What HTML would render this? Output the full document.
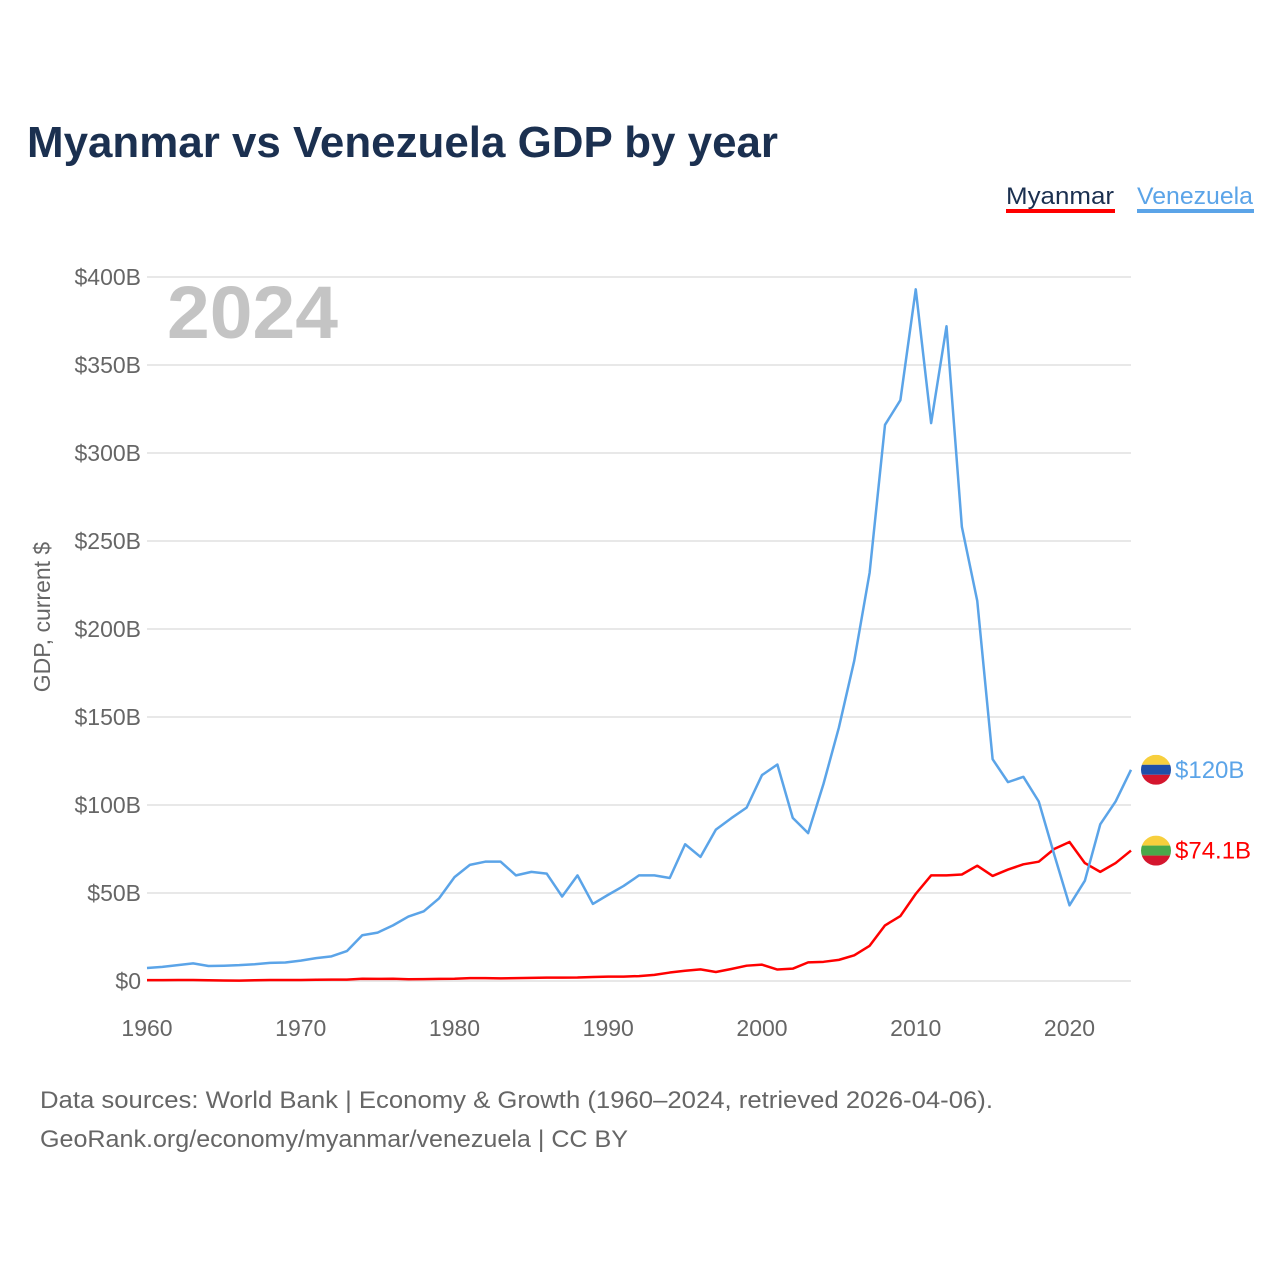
<!DOCTYPE html>
<html><head><meta charset="utf-8"><style>
body{margin:0;background:#fff;font-family:"Liberation Sans",sans-serif}
</style></head><body>
<svg width="1280" height="1280" xmlns="http://www.w3.org/2000/svg" font-family="Liberation Sans, sans-serif">
<rect width="1280" height="1280" fill="#fff"/>
<text x="27" y="157" font-size="44" font-weight="bold" fill="#1b3050" textLength="751" lengthAdjust="spacingAndGlyphs">Myanmar vs Venezuela GDP by year</text>
<g>
<text x="1006" y="204" font-size="24" fill="#1b3050" textLength="108" lengthAdjust="spacingAndGlyphs">Myanmar</text>
<rect x="1006" y="209" width="109" height="4" fill="#ff0000"/>
<text x="1137" y="204" font-size="24" fill="#5ba4e8" textLength="116" lengthAdjust="spacingAndGlyphs">Venezuela</text>
<rect x="1137" y="209" width="117" height="4" fill="#5ba4e8"/>
</g>
<g id="grid"></g>
<text x="167" y="338" font-size="74" font-weight="bold" fill="#c4c4c4" textLength="171" lengthAdjust="spacingAndGlyphs">2024</text>
<text transform="translate(50,617) rotate(-90)" text-anchor="middle" font-size="23" fill="#666">GDP, current $</text>
<g id="series"></g>
<g>
<text x="40" y="1108" font-size="24" fill="#666" textLength="953" lengthAdjust="spacingAndGlyphs">Data sources: World Bank | Economy &amp; Growth (1960–2024, retrieved 2026-04-06).</text>
<text x="40" y="1147" font-size="24" fill="#666" textLength="588" lengthAdjust="spacingAndGlyphs">GeoRank.org/economy/myanmar/venezuela | CC BY</text>
</g>
</svg>
<script>
const years=[];for(let y=1960;y<=2024;y++)years.push(y);
const yTicks=[0,50,100,150,200,250,300,350,400];
const yTickLabels=["$0","$50B","$100B","$150B","$200B","$250B","$300B","$350B","$400B"];
const xTicks=[1960,1970,1980,1990,2000,2010,2020];
const venezuela=[7.4,8,9,10,8.5,8.7,9,9.5,10.3,10.5,11.6,13,14,17,26,27.5,31.6,36.6,39.6,47,59,66,67.8,67.8,60,62,61,48,60,43.8,49,54,60,60,58.5,77.7,70.5,86,92.5,98.5,117,123,92.7,84,112,144,182,232,316,330,393,317,372,258,216,126,113,116,102,72,43,57,89,102,120];
const myanmar=[0.5,0.5,0.6,0.6,0.4,0.3,0.2,0.4,0.6,0.6,0.6,0.7,0.8,0.8,1.3,1.2,1.3,1,1.1,1.2,1.3,1.6,1.6,1.5,1.6,1.8,1.9,1.9,2,2.3,2.5,2.5,2.8,3.5,4.8,5.8,6.6,5.1,6.8,8.7,9.3,6.5,7,10.6,10.9,12,14.6,20,31.6,36.9,49.5,60,60,60.5,65.5,59.7,63.3,66.3,67.8,75,79,67,62,67,74.1];
const x0=147,x1=1131,yBase=981,yTop=277;
const X=v=>x0+(v-1960)*(x1-x0)/(2024-1960);
const Y=v=>yBase-v*(yBase-yTop)/400;
const NS="http://www.w3.org/2000/svg";
const g=document.getElementById('grid'),s=document.getElementById('series');
function mk(t,a,p){const e=document.createElementNS(NS,t);for(const k in a)e.setAttribute(k,a[k]);p.appendChild(e);return e;}
yTicks.forEach((v,i)=>{
 const l=mk('line',{x1:x0,x2:x1,y1:Y(v),y2:Y(v),stroke:'#e8e8e8','stroke-width':2},g);
 
 
 const t=mk('text',{x:141,y:Y(v)+8,'text-anchor':'end','font-size':23,fill:'#666'},g);
 t.textContent=yTickLabels[i];
 
 
});
xTicks.forEach(v=>{
 const t=mk('text',{x:X(v),y:1036,'text-anchor':'middle','font-size':23,fill:'#666'},g);
 t.textContent=v;
 
 
});
function line(data,col,name){
 const p=mk('polyline',{points:data.map((v,i)=>X(years[i])+','+Y(v)).join(' '),fill:'none',stroke:col,'stroke-width':2.5,'stroke-linejoin':'round'},s);
 
 
}
line(myanmar,'#ff0000','myanmar-line');
line(venezuela,'#5ba4e8','venezuela-line');
function endLabel(v,col,label,name,flag){
 const y=Y(v);
 const c=mk('g',{},s);
 
 
 mk('clipPath',{id:'cp'+name},c);
 const cp=c.lastChild;mk('circle',{cx:1156,cy:y,r:15},cp);
 flag.forEach((cl,i)=>mk('rect',{x:1141,y:y-15+i*10,width:30,height:10,fill:cl,'clip-path':'url(#cp'+name+')'},c));
 const t=mk('text',{x:1175,y:y+8,'font-size':24,fill:col},s);
 t.textContent=label;
 
 
}
endLabel(venezuela[venezuela.length-1],'#5ba4e8','$120B','venezuela',['#f7cf3d','#1f4fa8','#d4162e']);
endLabel(myanmar[myanmar.length-1],'#ff0000','$74.1B','myanmar',['#f7cf3d','#4aa84a','#d4162e']);
</script>
</body></html>
